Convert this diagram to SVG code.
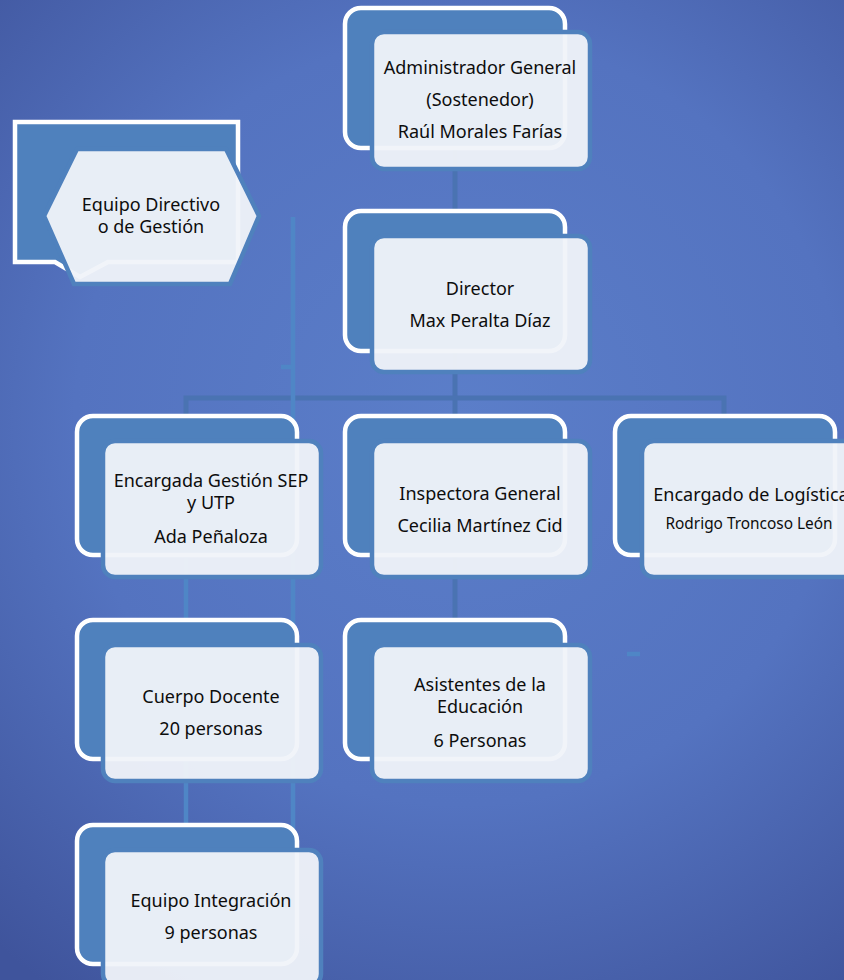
<svg xmlns="http://www.w3.org/2000/svg" width="844" height="980" viewBox="0 0 844 980">
<defs>
<radialGradient id="bg" cx="460" cy="420" r="700" gradientUnits="userSpaceOnUse">
<stop offset="0" stop-color="#5b7ec9"/>
<stop offset="0.55" stop-color="#5473c0"/>
<stop offset="1" stop-color="#3f549c"/>
</radialGradient>
<style>
.back{fill:#4f81bd;stroke:#ffffff;stroke-width:4.5}
.front{fill:#f0f3f9;fill-opacity:0.95;stroke:#4f81bd;stroke-width:4.5}
.t{font-family:"Noto Sans","Open Sans",Lato,sans-serif;font-size:18px;fill:#0d0d0d;text-anchor:middle;font-variant-ligatures:none}
.s{font-size:15.4px}
.c{fill:none;stroke:#4a73b2;stroke-width:5}
.c2{fill:none;stroke:#4f86c6;stroke-width:4.5}
</style>
</defs>
<rect x="0" y="0" width="844" height="980" fill="url(#bg)"/>

<g id="connectors">
<line class="c" x1="455" y1="150" x2="455" y2="215"/>
<line class="c" x1="455" y1="350" x2="455" y2="420"/>
<polyline class="c" points="186,420 186,398 724,398 724,420"/>
<line class="c2" x1="293" y1="217" x2="293" y2="896"/>
<line class="c2" x1="281" y1="367" x2="293" y2="367"/>
<line class="c2" x1="278" y1="896" x2="293" y2="896"/>
<line class="c2" x1="186" y1="555" x2="186" y2="625"/>
<line class="c2" x1="186" y1="758" x2="186" y2="830"/>
<line class="c" x1="455" y1="555" x2="455" y2="625"/>
<line class="c2" x1="627" y1="654" x2="640" y2="654"/>
</g>

<g id="callout">
<path class="back" d="M15,122 H238 V262 H108 L80,277 L55,262 H15 Z"/>
<polygon class="front" points="44,216 77,149 226,149 259,216 230,284 74,284"/>
<text class="t" x="151" y="211">Equipo Directivo</text>
<text class="t" x="151" y="233">o de Gestión</text>
</g>

<g id="admin">
<rect class="back" x="345" y="8" width="220" height="140" rx="16"/>
<rect class="front" x="372" y="32" width="218" height="137" rx="12"/>
<text class="t" x="480" y="74">Administrador General</text>
<text class="t" x="480" y="106">(Sostenedor)</text>
<text class="t" x="480" y="138">Raúl Morales Farías</text>
</g>

<g id="director">
<rect class="back" x="345" y="211" width="220" height="140" rx="16"/>
<rect class="front" x="372" y="236" width="218" height="136" rx="12"/>
<text class="t" x="480" y="295">Director</text>
<text class="t" x="480" y="327">Max Peralta Díaz</text>
</g>

<g id="sep-utp">
<rect class="back" x="77" y="416" width="220" height="139" rx="16"/>
<rect class="front" x="103" y="441" width="218" height="136" rx="12"/>
<text class="t" x="211" y="487">Encargada Gestión SEP</text>
<text class="t" x="211" y="509">y UTP</text>
<text class="t" x="211" y="543">Ada Peñaloza</text>
</g>

<g id="inspectora">
<rect class="back" x="345" y="416" width="220" height="139" rx="16"/>
<rect class="front" x="372" y="441" width="218" height="136" rx="12"/>
<text class="t" x="480" y="500">Inspectora General</text>
<text class="t" x="480" y="532">Cecilia Martínez Cid</text>
</g>

<g id="logistica">
<rect class="back" x="615" y="416" width="220" height="139" rx="16"/>
<rect class="front" x="642" y="441" width="218" height="136" rx="12"/>
<text class="t" x="751" y="501">Encargado de Logística</text>
<text class="t s" x="749" y="529">Rodrigo Troncoso León</text>
</g>

<g id="docentes">
<rect class="back" x="77" y="620" width="220" height="139" rx="16"/>
<rect class="front" x="103" y="645" width="218" height="136" rx="12"/>
<text class="t" x="211" y="703">Cuerpo Docente</text>
<text class="t" x="211" y="735">20 personas</text>
</g>

<g id="asistentes">
<rect class="back" x="345" y="620" width="220" height="139" rx="16"/>
<rect class="front" x="372" y="645" width="218" height="136" rx="12"/>
<text class="t" x="480" y="691">Asistentes de la</text>
<text class="t" x="480" y="713">Educación</text>
<text class="t" x="480" y="747">6 Personas</text>
</g>

<g id="integracion">
<rect class="back" x="77" y="825" width="220" height="139" rx="16"/>
<rect class="front" x="103" y="850" width="218" height="136" rx="12"/>
<text class="t" x="211" y="907">Equipo Integración</text>
<text class="t" x="211" y="939">9 personas</text>
</g>
</svg>
